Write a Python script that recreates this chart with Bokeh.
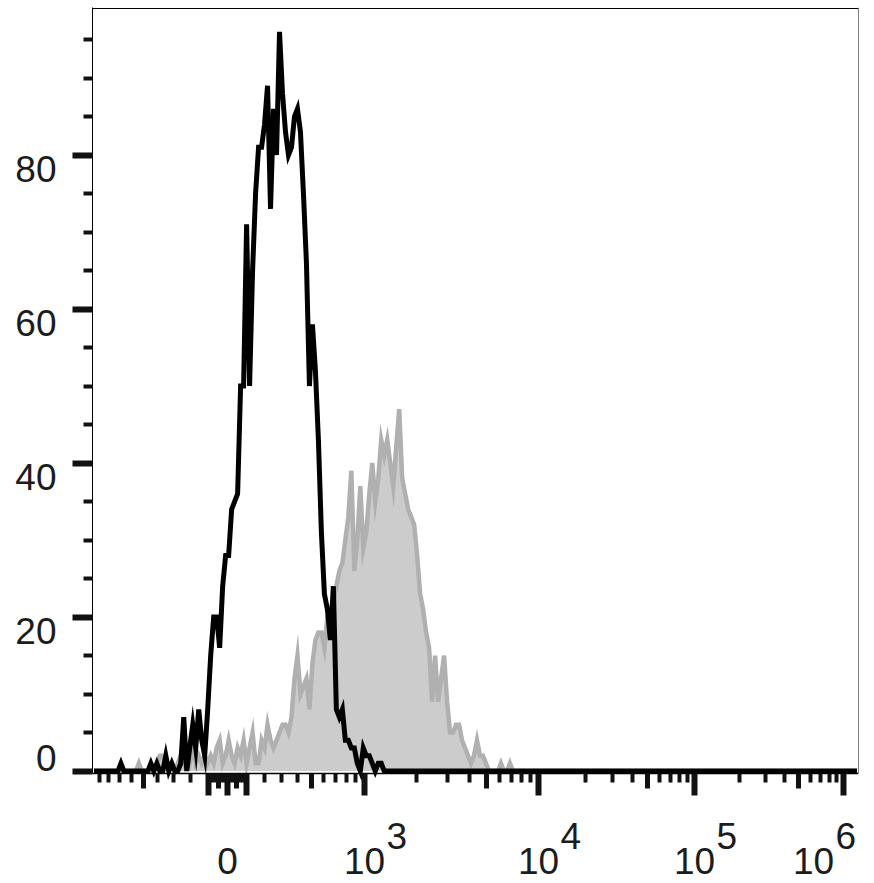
import numpy as np
from bokeh.plotting import figure
from bokeh.models import Range1d, FixedTicker, LinearAxis, Label
from bokeh.embed import file_html
from bokeh.resources import INLINE

# ---------------- data ----------------
N_BINS = 256  # display channels across the x axis

# black histogram, counts per display channel
black_counts = [0, 0, 0, 0, 0, 0, 0, 0, 0, 1,
                0, 0, 0, 0, 0, 0, 0, 0, 0, 1,
                0, 1, 0, 0, 2, 0, 1, 0, 0, 1,
                7, 0, 3, 6, 3, 8, 4, 2, 8, 15,
                20, 20, 16, 24, 28, 28, 34, 35, 36, 50,
                50, 71, 50, 65, 75, 81, 81, 84, 89, 73,
                86, 80, 96, 88, 83, 80, 81, 85, 86, 83,
                75, 66, 50, 58, 52, 43, 31, 23, 21, 17,
                24, 8, 7, 8, 4, 4, 3, 3, 1, 0,
                3, 2, 2, 1, 0, 1, 1]

# gray filled histogram, counts per display channel
gray_counts = [0, 0, 0, 0, 0, 0, 0, 0, 0, 0,
               0, 0, 0, 0, 0, 1, 0, 0, 0, 0,
               0, 1, 2, 2, 1, 0, 1, 0, 1, 2,
               1, 2, 1, 3, 1, 2, 1, 2, 1, 2,
               1, 3, 4, 1, 2, 4, 2, 1, 3, 2,
               4, 1, 3, 5, 1, 1, 4, 3, 6, 4,
               3, 4, 5, 6, 6, 5, 7, 12, 15, 10,
               11, 12, 8, 14, 17, 18, 18, 16, 20, 21,
               22, 24, 26, 27, 30, 33, 39, 26, 30, 37,
               29, 31, 36, 40, 35, 38, 43, 41, 43, 40,
               37, 42, 47, 38, 36, 34, 33, 32, 28, 23,
               21, 18, 16, 9, 15, 9, 12, 15, 9, 5,
               5, 6, 6, 4, 3, 2, 1, 2, 4, 2,
               2, 1, 0, 0, 0, 0, 1, 0, 0, 1]

black_counts = black_counts + [0] * (N_BINS - len(black_counts))
gray_counts = gray_counts + [0] * (N_BINS - len(gray_counts))
channels = [i + 0.5 for i in range(N_BINS)]

# y axis ticks
y_major = [0, 20, 40, 60, 80]
y_minor = [5, 10, 15, 25, 30, 35, 45, 50, 55, 65, 70, 75, 85, 90, 95]

# x axis (biexponential display) tick values
x_major_vals = [-100, 0, 100, 1e3, 1e4, 1e5, 1e6]
x_mid_vals = [-500, -50, 50, 500, 5e3, 5e4, 5e5]
x_minor_vals = ([-900, -800, -700, -600, -400, -300, -200]
                + [-90, -80, -70, -60, -40, -30, -20, -10]
                + [10, 20, 30, 40, 60, 70, 80, 90]
                + [200, 300, 400, 600, 700, 800, 900]
                + [m * 10 ** e for e in (3, 4, 5) for m in (2, 3, 4, 6, 7, 8, 9)])
x_label_vals = [0, 1e3, 1e4, 1e5, 1e6]
x_label_base = ["0", "10", "10", "10", "10"]
x_label_exp = ["", "3", "4", "5", "6"]

# display transform (channel units): asinh around zero, log above 10^3
ZERO_CH, LIN_K, LIN_W = 45.12, 31.72, 500.0
DECADE_CH = {3: 90.9, 4: 149.05, 5: 201.19, 6: 250.98}


def disp(v):
    if abs(v) <= 1000:
        return ZERO_CH + LIN_K * float(np.arcsinh(v / LIN_W))
    lg = float(np.log10(v))
    e = int(np.floor(lg + 1e-9))
    if e >= 6:
        return DECADE_CH[6]
    return DECADE_CH[e] + (DECADE_CH[e + 1] - DECADE_CH[e]) * (lg - e)


# ---------------- layout ----------------
W, H = 874, 883
ML, MR, MT = 92, 16, 7
PX_PER_COUNT = 7.7                    # vertical scale (pixels per count)
Y_AX = -0.325                         # where the x axis line sits (just under 0)
Y1 = 99.16                            # top of the plot box
Y_BOT = Y1 - (H - MT) / PX_PER_COUNT  # frame reaches the bottom of the canvas

p = figure(width=W, height=H, output_backend="svg", toolbar_location=None,
           x_range=Range1d(0, N_BINS), y_range=Range1d(Y_BOT, Y1),
           min_border_left=ML, min_border_right=MR, min_border_top=MT,
           min_border_bottom=0)
xa = p.below[0]
ya = p.left[0]
p.xgrid.visible = False
p.ygrid.visible = False
p.background_fill_color = "white"
p.border_fill_color = "white"
p.outline_line_color = None

FONT = "Liberation Sans"
TXT = "#1c1c1c"
TICK = "#111111"

# gray filled histogram
p.varea(x=channels, y1=[0] * N_BINS, y2=gray_counts, fill_color="#cccccc")
p.line(x=channels, y=gray_counts, line_color="#b0b0b0", line_width=4.5, line_join="miter")
# black histogram
p.line(x=channels, y=black_counts, line_color="black", line_width=5, line_join="miter")


def bare_axis(**kw):
    return LinearAxis(ticker=FixedTicker(ticks=[], minor_ticks=[]),
                      major_tick_line_color=None, minor_tick_line_color=None,
                      major_label_text_color=None, axis_line_color="black",
                      axis_line_width=1, **kw)


# box: top and right edges
p.add_layout(bare_axis(fixed_location=Y1 - 0.07), "above")
p.add_layout(bare_axis(fixed_location=N_BINS, bounds=(Y_AX, Y1)), "right")

# ---- y axis: tick marks
ya.ticker = FixedTicker(ticks=y_major, minor_ticks=y_minor)
ya.bounds = (Y_AX, Y1)
ya.axis_line_color = "black"
ya.axis_line_width = 1
ya.major_tick_in = 0
ya.major_tick_out = 20
ya.major_tick_line_width = 6
ya.major_tick_line_color = TICK
ya.minor_tick_in = 0
ya.minor_tick_out = 9
ya.minor_tick_line_width = 4
ya.minor_tick_line_color = TICK
ya.major_label_standoff = 0
ya.major_label_overrides = {v: "" for v in y_major}

# ---- y axis: tick labels (just below their tick, "0" just above)
y_lab_shift = 13.5 / PX_PER_COUNT
y_lab_pos = [round(v + (y_lab_shift if v == 0 else -y_lab_shift), 4) for v in y_major]
ylab = LinearAxis(ticker=FixedTicker(ticks=y_lab_pos, minor_ticks=[]),
                  axis_line_color=None,
                  major_tick_in=0, major_tick_out=0, major_tick_line_color=None,
                  minor_tick_in=0, minor_tick_out=0, minor_tick_line_color=None,
                  major_label_standoff=16,
                  major_label_overrides={pos: str(v) for pos, v in zip(y_lab_pos, y_major)},
                  major_label_text_font=FONT, major_label_text_font_size="37px",
                  major_label_text_color=TXT)
p.add_layout(ylab, "left")

# ---- x axis: long + short ticks
x_major_pos = [round(disp(v), 4) for v in x_major_vals]
xa.ticker = FixedTicker(ticks=x_major_pos, minor_ticks=[disp(v) for v in x_minor_vals])
xa.fixed_location = Y_AX
xa.axis_line_color = "black"
xa.axis_line_width = 1.5
xa.major_tick_in = 0
xa.major_tick_out = 22
xa.major_tick_line_width = 6
xa.major_tick_line_color = TICK
xa.minor_tick_in = 0
xa.minor_tick_out = 9
xa.minor_tick_line_width = 4
xa.minor_tick_line_color = TICK
xa.major_label_overrides = {pos: "" for pos in x_major_pos}

# ---- x axis: medium ticks (5 x 10^k)
x_mid_pos = [round(disp(v), 4) for v in x_mid_vals]
mid_axis = LinearAxis(ticker=FixedTicker(ticks=x_mid_pos, minor_ticks=[]),
                      fixed_location=Y_AX, axis_line_color=None,
                      major_tick_in=0, major_tick_out=15, major_tick_line_width=5,
                      major_tick_line_color=TICK, minor_tick_line_color=None,
                      minor_tick_in=0, minor_tick_out=0,
                      major_label_overrides={pos: "" for pos in x_mid_pos})
p.add_layout(mid_axis, "below")

# ---- x axis: tick labels, base "10" and raised exponent
BASE_Y = -(860 - 770.5) / PX_PER_COUNT   # anchor of "10" / "0"
EXP_Y = -(835 - 770.5) / PX_PER_COUNT    # anchor of the exponent
last = len(x_label_vals) - 1
for i, (v, b, ex) in enumerate(zip(x_label_vals, x_label_base, x_label_exp)):
    shift = -30 if i == last else 0
    p.add_layout(Label(x=disp(v), y=BASE_Y, x_offset=shift, text=b,
                       text_align="center", text_baseline="alphabetic",
                       text_font=FONT, text_font_size="37px", text_color=TXT))
    if ex:
        p.add_layout(Label(x=disp(v), y=EXP_Y, x_offset=shift + 22, text=ex,
                           text_align="left", text_baseline="alphabetic",
                           text_font=FONT, text_font_size="37px", text_color=TXT))

open("out.html", "w").write(file_html(p, INLINE))
